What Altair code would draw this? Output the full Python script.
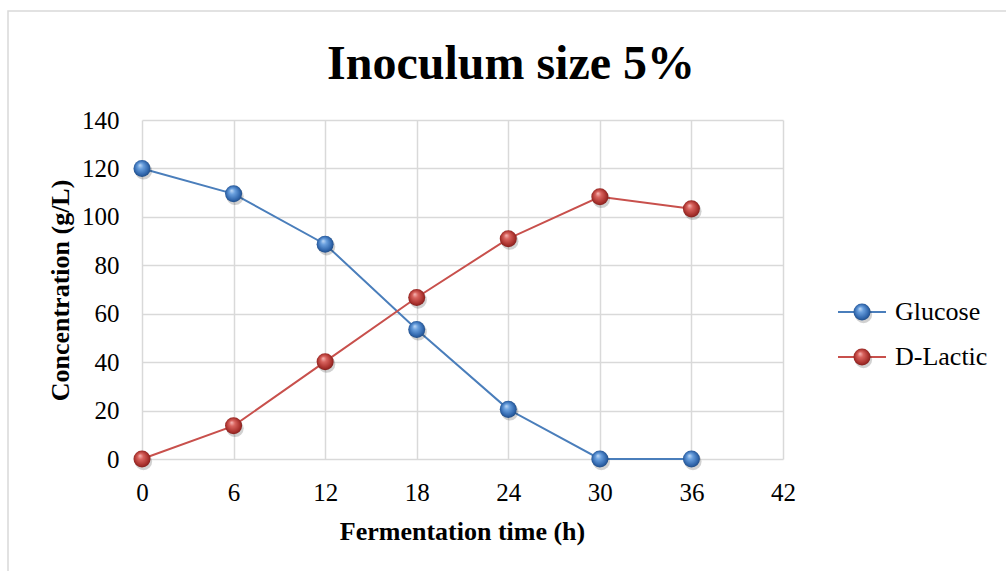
import altair as alt
import pandas as pd

# Fermentation sampling times (h)
hours = [0, 6, 12, 18, 24, 30, 36]
# Concentrations (g/L)
glucose = [120, 109.5, 88.7, 53.5, 20.5, 0, 0]
lactic = [0, 13.7, 40.2, 66.7, 91.0, 108.3, 103.3]

series_names = ["Glucose", "D-Lactic"]
line_colors = ["#4a7ebb", "#c8504c"]

SERIF = "Liberation Serif"

df = pd.DataFrame(
    {
        "hour": hours * 2,
        "conc": glucose + lactic,
        "series": [series_names[0]] * len(hours) + [series_names[1]] * len(hours),
    }
)


def sphere(stops):
    return {
        "gradient": "radial",
        "x1": 0.38, "y1": 0.3, "r1": 0.0,
        "x2": 0.5, "y2": 0.5, "r2": 0.55,
        "stops": [{"offset": o, "color": c} for o, c in stops],
    }


fills = [
    sphere([(0.0, "#c4dcf7"), (0.3, "#6aa0de"), (0.75, "#3167ad"), (1.0, "#1c4478")]),
    sphere([(0.0, "#f7bab8"), (0.3, "#d9645f"), (0.75, "#a9312d"), (1.0, "#761b19")]),
]

x_enc = alt.X(
    "hour:Q",
    scale=alt.Scale(domain=[0, 42], nice=False),
    axis=alt.Axis(
        values=[0, 6, 12, 18, 24, 30, 36, 42],
        title="Fermentation time (h)",
        titleX=320,
        titleY=80,
        titleBaseline="alphabetic",
        labelPadding=21,
        labelFlush=False,
    ),
)
y_enc = alt.Y(
    "conc:Q",
    scale=alt.Scale(domain=[0, 140], nice=False),
    axis=alt.Axis(
        values=[0, 20, 40, 60, 80, 100, 120, 140],
        title="Concentration (g/L)",
        titleX=-82,
        titleY=170,
        titleAngle=-90,
        titleBaseline="middle",
        titleAlign="center",
        labelPadding=23,
    ),
)

layers = []
for name, lc, fill in zip(series_names, line_colors, fills):
    sub = alt.Chart(df).transform_filter(alt.datum.series == name)
    layers.append(sub.mark_line(color=lc, strokeWidth=2).encode(x=x_enc, y=y_enc))
for name, lc, fill in zip(series_names, line_colors, fills):
    sub = alt.Chart(df).transform_filter(alt.datum.series == name)
    layers.append(
        sub.mark_circle(color="#000000", opacity=0.18, size=300, xOffset=1.5, yOffset=2.5).encode(
            x="hour:Q", y="conc:Q"
        )
    )
    layers.append(
        sub.mark_point(filled=True, fill=fill, size=290, shape="circle", opacity=1, strokeWidth=0).encode(
            x="hour:Q", y="conc:Q"
        )
    )

# Legend drawn as line + sphere + label
legend_rows = [192, 237]
for name, lc, fill, ly in zip(series_names, line_colors, fills, legend_rows):
    one = alt.Chart(alt.Data(values=[{"series": name}]))
    layers.append(
        one.mark_rule(color=lc, strokeWidth=2).encode(
            x=alt.value(696), x2=alt.value(744), y=alt.value(ly)
        )
    )
    layers.append(
        one.mark_circle(color="#000000", opacity=0.18, size=300, xOffset=1.5, yOffset=2.5).encode(
            x=alt.value(720), y=alt.value(ly)
        )
    )
    layers.append(
        one.mark_point(filled=True, fill=fill, size=290, shape="circle", opacity=1, strokeWidth=0).encode(
            x=alt.value(720), y=alt.value(ly)
        )
    )
    layers.append(
        one.mark_text(font=SERIF, fontSize=26, align="left", baseline="middle", color="#000").encode(
            x=alt.value(753), y=alt.value(ly), text="series:N"
        )
    )

# Chart title
title_src = alt.Chart(alt.Data(values=[{"t": "Inoculum size 5%"}]))
layers.append(
    title_src.mark_text(
        font=SERIF, fontSize=48, fontWeight="bold", align="center", baseline="alphabetic", color="#000"
    ).encode(x=alt.value(369), y=alt.value(-41), text="t:N")
)

# Outer frame of the chart area
frame_src = alt.Chart(alt.Data(values=[{"f": 1}]))
layers.append(
    frame_src.mark_rect(fill=None, stroke="#d9d9d9", strokeWidth=1.5).encode(
        x=alt.value(-134), y=alt.value(-109), x2=alt.value(874), y2=alt.value(461)
    )
)

chart = (
    alt.layer(*layers)
    .properties(
        width=641,
        height=339,
        autosize=alt.AutoSizeParams(type="none"),
        padding={"left": 142, "top": 120, "right": 223, "bottom": 112},
        background="white",
    )
    .configure_view(stroke=None)
    .configure_axis(
        grid=True,
        gridColor="#d9d9d9",
        gridWidth=1.5,
        domain=False,
        ticks=False,
        labelFont=SERIF,
        labelFontSize=25,
        labelColor="#000",
        titleFont=SERIF,
        titleFontSize=26,
        titleFontWeight="bold",
        titleColor="#000",
    )
)

chart.save("out.html", embed_options={"renderer": "svg", "actions": False})
